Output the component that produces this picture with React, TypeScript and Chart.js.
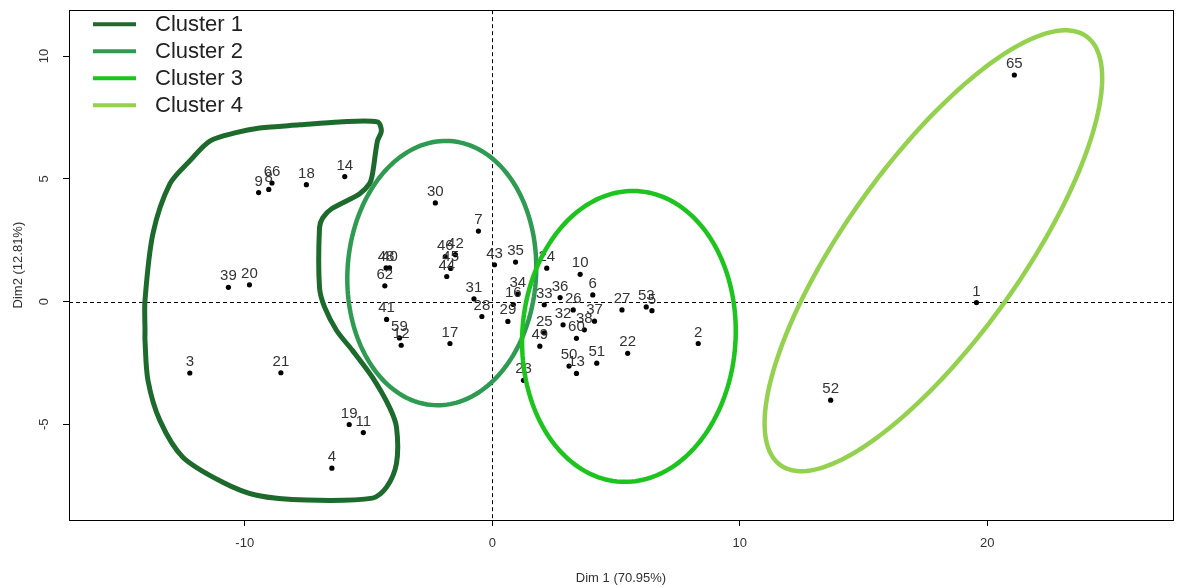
import React, { useEffect, useRef } from "react";
import { Chart, registerables } from "chart.js";

Chart.register(...registerables);

// ---- data ----
const pointLabels = [
  "1", "2", "3", "4", "5", "6", "7", "8", "9", "10", "11", "12", "13", "14", "45", "16", "17", "18", "19", "20",
  "21", "22", "23", "24", "25", "26", "27", "28", "29", "30", "31", "32", "33", "34", "35", "36", "37", "38", "39", "40",
  "41", "42", "43", "44", "48", "46", "49", "50", "51", "52", "53", "59", "60", "62", "65", "66",
];
const dim1 = [
  19.56, 8.32, -12.22, -6.48, 6.45, 4.06, -0.56, -9.03, -9.44, 3.55, -5.21, -3.68, 3.4, -5.96, -1.68, 0.85, -1.71, -7.51, -5.78, -9.81,
  -8.54, 5.47, 1.26, 2.2, 2.1, 3.27, 5.24, -0.42, 0.63, -2.3, -0.74, 2.86, 2.1, 1.03, 0.94, 2.74, 4.13, 3.72, -10.66, -4.15,
  -4.27, -1.49, 0.09, -1.84, -4.29, -1.9, 1.92, 3.1, 4.22, 13.67, 6.22, -3.75, 3.4, -4.34, 21.09, -8.9,
];
const dim2 = [
  -0.04, -1.71, -2.91, -6.79, -0.37, 0.27, 2.87, 4.57, 4.44, 1.11, -5.34, -1.78, -2.93, 5.09, 1.35, -0.12, -1.71, 4.76, -5.01, 0.68,
  -2.9, -2.11, -3.21, 1.36, -1.28, -0.34, -0.34, -0.61, -0.81, 4.02, 0.11, -0.95, -0.13, 0.3, 1.61, 0.16, -0.8, -1.15, 0.58, 1.37,
  -0.73, 1.91, 1.5, 1.02, 1.37, 1.83, -1.82, -2.63, -2.51, -4.02, -0.22, -1.48, -1.5, 0.64, 9.23, 4.83,
];

const clusterNames = ["Cluster 1", "Cluster 2", "Cluster 3", "Cluster 4"];
const clusterColors = ["#1c6a2c", "#2f9b52", "#1ec41e", "#94d14f"];

// Cluster 1 outline (data units)
const hullX = [
  -14.03, -14.03, -13.71, -13.02, -12.22, -11.41, -10.4, -9.4, -7.78, -6.17, -4.64, -4.48, -4.64, -4.84, -4.96, -5.36, -6.49,
  -6.85, -6.98, -6.98, -6.77, -6.29, -5.65, -4.84, -4.15, -3.87, -3.87, -4.27, -4.84, -7.5, -9.52, -10.89, -12.5, -13.43, -13.91,
  -14.03,
];
const hullY = [
  -1.18, 0.04, 2.76, 4.8, 5.73, 6.54, 6.87, 7.07, 7.2, 7.32, 7.32, 6.95, 6.54, 5.2, 4.8, 4.39, 3.78,
  3.41, 3.01, 0.57, -0.24, -1.18, -1.99, -3.09, -4.31, -5.12, -6.59, -7.56, -8.01, -8.09, -7.89, -7.36, -6.34, -4.84, -3.21,
  -1.59,
];

// Ellipses for clusters 2..4 (centre, semi-axes, angle of first axis in degrees)
const ellipseCluster = [1, 2, 3];
const ellipseCx = [-2.04, 5.52, 17.82];
const ellipseCy = [1.16, -1.42, 2.07];
const ellipseA = [5.39, 5.93, 10.7];
const ellipseB = [3.81, 4.31, 3.56];
const ellipseAngle = [86.5, 86.7, 54.8];

const xTicks = [-10, 0, 10, 20];
const yTicks = [-5, 0, 5, 10];
const xRange = [-17.1, 27.5];
const yRange = [-8.9, 11.87];
const xTitle = "Dim 1 (70.95%)";
const yTitle = "Dim2 (12.81%)";

const FONT = "'Liberation Sans', Arial, sans-serif";

const overlay = {
  id: "overlay",
  beforeDatasetsDraw(chart: any) {
    const { ctx, chartArea: a, scales } = chart;
    const x = scales.x;
    const y = scales.y;
    ctx.save();
    ctx.strokeStyle = "#000";
    ctx.lineWidth = 1;
    ctx.setLineDash([4, 3]);
    const x0 = Math.round(x.getPixelForValue(0)) + 0.5;
    const y0 = Math.round(y.getPixelForValue(0)) + 0.5;
    ctx.beginPath();
    ctx.moveTo(x0, a.top);
    ctx.lineTo(x0, a.bottom);
    ctx.moveTo(a.left, y0);
    ctx.lineTo(a.right, y0);
    ctx.stroke();
    ctx.restore();
  },
  afterDatasetsDraw(chart: any) {
    const { ctx, chartArea: a, scales } = chart;
    const x = scales.x;
    const y = scales.y;
    ctx.save();
    // point labels
    ctx.fillStyle = "#333";
    ctx.font = `15px ${FONT}`;
    ctx.textAlign = "center";
    ctx.textBaseline = "alphabetic";
    for (let i = 0; i < pointLabels.length; i++) {
      const px = x.getPixelForValue(dim1[i]);
      const py = y.getPixelForValue(dim2[i]);
      ctx.fillText(pointLabels[i], px, py - 7);
    }
    // ellipses
    ctx.lineWidth = 4.5;
    for (let k = 0; k < ellipseCluster.length; k++) {
      const th = (ellipseAngle[k] * Math.PI) / 180;
      ctx.strokeStyle = clusterColors[ellipseCluster[k]];
      ctx.beginPath();
      const n = 180;
      for (let j = 0; j <= n; j++) {
        const t = (j / n) * Math.PI * 2;
        const u = ellipseA[k] * Math.cos(t);
        const v = ellipseB[k] * Math.sin(t);
        const dx = ellipseCx[k] + u * Math.cos(th) - v * Math.sin(th);
        const dy = ellipseCy[k] + u * Math.sin(th) + v * Math.cos(th);
        const px = x.getPixelForValue(dx);
        const py = y.getPixelForValue(dy);
        if (j === 0) ctx.moveTo(px, py);
        else ctx.lineTo(px, py);
      }
      ctx.closePath();
      ctx.stroke();
    }
    // box
    ctx.strokeStyle = "#000";
    ctx.lineWidth = 1;
    ctx.strokeRect(Math.round(a.left) + 0.5, Math.round(a.top) + 0.5, Math.round(a.right - a.left), Math.round(a.bottom - a.top));
    // legend
    ctx.font = `22px ${FONT}`;
    ctx.textAlign = "left";
    ctx.textBaseline = "middle";
    for (let i = 0; i < clusterNames.length; i++) {
      const ly = a.top + 14 + i * 27;
      ctx.strokeStyle = clusterColors[i];
      ctx.lineWidth = 4;
      ctx.beginPath();
      ctx.moveTo(a.left + 24, ly);
      ctx.lineTo(a.left + 67, ly);
      ctx.stroke();
      ctx.fillStyle = "#222";
      ctx.fillText(clusterNames[i], a.left + 86, ly + 1);
    }
    // y tick labels (rotated like R)
    ctx.fillStyle = "#333";
    ctx.font = `13px ${FONT}`;
    ctx.textAlign = "center";
    ctx.textBaseline = "middle";
    for (const v of yTicks) {
      const py = y.getPixelForValue(v);
      ctx.save();
      ctx.translate(a.left - 25, py);
      ctx.rotate(-Math.PI / 2);
      ctx.fillText(String(v), 0, 0);
      ctx.restore();
    }
    // axis titles
    ctx.font = `13px ${FONT}`;
    ctx.fillText(xTitle, (a.left + a.right) / 2, 578);
    ctx.save();
    ctx.translate(18, (a.top + a.bottom) / 2);
    ctx.rotate(-Math.PI / 2);
    ctx.fillText(yTitle, 0, 0);
    ctx.restore();
    ctx.restore();
  },
};

export default function App() {
  const ref = useRef<HTMLCanvasElement | null>(null);
  useEffect(() => {
    document.body.style.margin = "0";
    const canvas = ref.current;
    if (!canvas) return;
    const points = dim1.map((v, i) => ({ x: v, y: dim2[i] }));
    const hull = hullX.map((v, i) => ({ x: v, y: hullY[i] }));
    hull.push({ x: hullX[0], y: hullY[0] });
    const chart = new Chart(canvas, {
      type: "scatter",
      data: {
        datasets: [
          {
            label: "points",
            data: points,
            pointRadius: 2.6,
            pointBackgroundColor: "#000",
            pointBorderWidth: 0,
            showLine: false,
          } as any,
          {
            label: clusterNames[0],
            data: hull,
            showLine: true,
            tension: 0.3,
            borderColor: clusterColors[0],
            borderWidth: 5,
            borderJoinStyle: "round",
            borderCapStyle: "round",
            pointRadius: 0,
            fill: false,
          } as any,
        ],
      },
      options: {
        responsive: false,
        animation: false,
        devicePixelRatio: 1,
        layout: { padding: { top: 9, right: 2, left: 0, bottom: 0 } },
        plugins: { legend: { display: false }, tooltip: { enabled: false } },
        scales: {
          x: {
            type: "linear",
            min: xRange[0],
            max: xRange[1],
            afterBuildTicks: (s: any) => {
              s.ticks = xTicks.map((v) => ({ value: v }));
            },
            afterFit: (s: any) => {
              s.height = 67;
            },
            grid: { drawOnChartArea: false, drawTicks: true, tickLength: 6, color: "#000" },
            border: { display: true, color: "#000", width: 1 },
            ticks: { color: "#333", font: { family: FONT, size: 13 }, padding: 10, maxRotation: 0, autoSkip: false },
          },
          y: {
            type: "linear",
            min: yRange[0],
            max: yRange[1],
            afterBuildTicks: (s: any) => {
              s.ticks = yTicks.map((v) => ({ value: v }));
            },
            afterFit: (s: any) => {
              s.width = 69;
            },
            grid: { drawOnChartArea: false, drawTicks: true, tickLength: 6, color: "#000" },
            border: { display: true, color: "#000", width: 1 },
            ticks: { color: "rgba(0,0,0,0)", font: { family: FONT, size: 12 }, autoSkip: false },
          },
        },
      },
      plugins: [overlay],
    });
    return () => chart.destroy();
  }, []);
  return <canvas ref={ref} width={1177} height={587} style={{ display: "block" }} />;
}
